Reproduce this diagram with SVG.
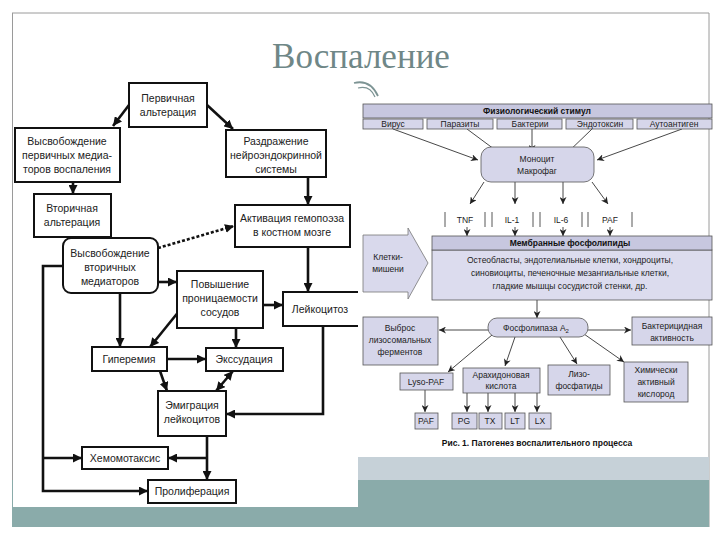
<svg xmlns="http://www.w3.org/2000/svg" width="720" height="540" viewBox="0 0 720 540">
<defs>
<style>
.bx{fill:#fff;stroke:#111;stroke-width:2}
.t{font-family:"Liberation Sans",Arial,sans-serif;font-size:10.5px;fill:#222;text-anchor:middle}
.c{fill:none;stroke:#111;stroke-width:2.6}
.rb{fill:#d6d6ea;stroke:#555;stroke-width:0.8}
.rh{fill:#c7c7df;stroke:#555;stroke-width:0.8}
.rt{font-family:"Liberation Sans",Arial,sans-serif;font-size:8.5px;fill:#222;text-anchor:middle}
.rtb{font-family:"Liberation Sans",Arial,sans-serif;font-size:8.5px;fill:#111;text-anchor:middle;font-weight:bold}
.rc{fill:none;stroke:#333;stroke-width:0.9}
</style>
<marker id="ah" viewBox="0 0 10 10" refX="10" refY="5" markerWidth="9" markerHeight="9" markerUnits="userSpaceOnUse" orient="auto-start-reverse"><path d="M0,0 L10,5 L0,10 z" fill="#111"/></marker>
<marker id="sh" viewBox="0 0 10 10" refX="10" refY="5" markerWidth="7" markerHeight="7" markerUnits="userSpaceOnUse" orient="auto"><path d="M0,0 L10,5 L0,10 L3,5 z" fill="#222"/></marker>
</defs>
<rect x="0" y="0" width="720" height="540" fill="#fff"/>
<g id="frame">
<line x1="12" y1="13" x2="709" y2="13" stroke="#9a9a9a" stroke-width="1"/>
<line x1="12.5" y1="13" x2="12.5" y2="527" stroke="#9a9a9a" stroke-width="1"/>
<line x1="709" y1="13" x2="709" y2="527" stroke="#9a9a9a" stroke-width="1"/>
<rect x="355" y="457" width="354" height="23" fill="#c6d1d8"/>
<rect x="12" y="480" width="697" height="47" fill="#8aabaa"/>
<rect x="13" y="75" width="345" height="432" fill="#fff"/>
</g>
<g id="title">
<text x="361" y="68" font-family="Liberation Serif,serif" font-size="35" fill="#6f8787" text-anchor="middle">Воспаление</text>
<path d="M354,83 Q370,79 378,96" fill="none" stroke="#7d9494" stroke-width="1.8"/>
<path d="M358,88 Q370,85 375,97" fill="none" stroke="#7d9494" stroke-width="1.2"/>
</g>
<g id="left-connectors">
<path class="c" d="M129,105 L113,126" marker-end="url(#ah)"/>
<path class="c" d="M207,105 L233,129" marker-end="url(#ah)"/>
<path class="c" d="M73,182 L73,194" marker-end="url(#ah)"/>
<path class="c" d="M308,177 L308,205" marker-end="url(#ah)"/>
<path class="c" d="M158,248 L234,226" stroke-dasharray="3,2" stroke-width="3" marker-end="url(#ah)"/>
<path class="c" d="M158,282 L177,282" marker-end="url(#ah)"/>
<path class="c" d="M120,293 L120,347" marker-end="url(#ah)"/>
<path class="c" d="M180,310 L150,347" marker-end="url(#ah)"/>
<path class="c" d="M263,305 L283,305" marker-end="url(#ah)"/>
<path class="c" d="M236,328 L236,348" marker-end="url(#ah)"/>
<path class="c" d="M308,247 L308,292" marker-end="url(#ah)"/>
<path class="c" d="M167,359 L206,359" marker-end="url(#ah)"/>
<path class="c" d="M160,371 L167,391" marker-end="url(#ah)"/>
<path class="c" d="M233,371 L216,391" marker-start="url(#ah)" marker-end="url(#ah)"/>
<path class="c" d="M323,326 L323,414 L226,414" marker-end="url(#ah)"/>
<path class="c" d="M63,266 L43,266 L43,491 L148,491" marker-end="url(#ah)"/>
<path class="c" d="M43,458 L82,458" marker-end="url(#ah)"/>
<path class="c" d="M207,436 L207,480" marker-end="url(#ah)"/>
<path class="c" d="M207,458 L168,458" marker-end="url(#ah)"/>
</g>
<g id="n-primary"><rect class="bx" x="129" y="83" width="78" height="44"/><text class="t" x="168" y="102">Первичная</text><text class="t" x="168" y="116">альтерация</text></g>
<g id="n-release1"><rect class="bx" x="15" y="128" width="105" height="54"/><text class="t" x="67" y="145">Высвобождение</text><text class="t" x="67" y="159">первичных медиа-</text><text class="t" x="67" y="173">торов воспаления</text></g>
<g id="n-secondary"><rect class="bx" x="34" y="194" width="77" height="43"/><text class="t" x="72" y="212">Вторичная</text><text class="t" x="72" y="226">альтерация</text></g>
<g id="n-neuro"><rect class="bx" x="226" y="130" width="100" height="47"/><text class="t" x="276" y="145">Раздражение</text><text class="t" x="276" y="159">нейроэндокринной</text><text class="t" x="276" y="173">системы</text></g>
<g id="n-hemo"><rect class="bx" x="235" y="205" width="115" height="42"/><text class="t" x="292" y="222">Активация гемопоэза</text><text class="t" x="292" y="236">в костном мозге</text></g>
<g id="n-release2"><rect class="bx" x="63" y="238" width="95" height="55" rx="8"/><text class="t" x="110" y="257">Высвобождение</text><text class="t" x="110" y="271">вторичных</text><text class="t" x="110" y="285">медиаторов</text></g>
<g id="n-perm"><rect class="bx" x="177" y="271" width="86" height="57"/><text class="t" x="220" y="288">Повышение</text><text class="t" x="220" y="302">проницаемости</text><text class="t" x="220" y="316">сосудов</text></g>
<g id="n-leuko"><path d="M358,292 H283 V326 H358" fill="#fff" stroke="#111" stroke-width="2"/><text class="t" x="320" y="313">Лейкоцитоз</text></g>
<g id="n-hyper"><rect class="bx" x="92" y="347" width="75" height="24"/><text class="t" x="129" y="363">Гиперемия</text></g>
<g id="n-exud"><rect class="bx" x="206" y="348" width="77" height="23"/><text class="t" x="244" y="363">Экссудация</text></g>
<g id="n-emig"><rect class="bx" x="158" y="391" width="68" height="45"/><text class="t" x="192" y="409">Эмиграция</text><text class="t" x="192" y="423">лейкоцитов</text></g>
<g id="n-chemo"><rect class="bx" x="82" y="447" width="86" height="22"/><text class="t" x="125" y="462">Хемомотаксис</text></g>
<g id="n-prolif"><rect class="bx" x="148" y="480" width="88" height="23"/><text class="t" x="192" y="495">Пролиферация</text></g>

<g id="right-connectors">
<path class="rc" d="M393,129 L478,160" marker-end="url(#sh)"/>
<path class="rc" d="M467,129 L502,155" marker-end="url(#sh)"/>
<path class="rc" d="M532,129 L532,152" marker-end="url(#sh)"/>
<path class="rc" d="M592,129 L565,155" marker-end="url(#sh)"/>
<path class="rc" d="M682,129 L597,160" marker-end="url(#sh)"/>
<path class="rc" d="M484,182 L470,204" marker-end="url(#sh)"/>
<path class="rc" d="M515,182 L515,204" marker-end="url(#sh)"/>
<path class="rc" d="M563,182 L563,204" marker-end="url(#sh)"/>
<path class="rc" d="M592,182 L608,204" marker-end="url(#sh)"/>
<path class="rc" d="M467,227 L467,236" marker-end="url(#sh)"/>
<path class="rc" d="M515,227 L515,236" marker-end="url(#sh)"/>
<path class="rc" d="M563,227 L563,236" marker-end="url(#sh)"/>
<path class="rc" d="M610,227 L610,236" marker-end="url(#sh)"/>
<path class="rc" d="M537,300 L537,318" marker-end="url(#sh)"/>
<path class="rc" d="M488,330 L439,330" marker-end="url(#sh)"/>
<path class="rc" d="M588,330 L631,330" marker-end="url(#sh)"/>
<path class="rc" d="M492,335 L448,372" marker-end="url(#sh)"/>
<path class="rc" d="M515,337 L505,366" marker-end="url(#sh)"/>
<path class="rc" d="M560,337 L577,364" marker-end="url(#sh)"/>
<path class="rc" d="M584,334 L624,362" marker-end="url(#sh)"/>
<path class="rc" d="M425,390 L425,412" marker-end="url(#sh)"/>
<path class="rc" d="M467,393 L467,412" marker-end="url(#sh)"/>
<path class="rc" d="M488,393 L488,412" marker-end="url(#sh)"/>
<path class="rc" d="M515,393 L515,412" marker-end="url(#sh)"/>
<path class="rc" d="M537,393 L537,412" marker-end="url(#sh)"/>
</g>
<g id="r-stimulus"><rect class="rh" x="363" y="104" width="349" height="14"/><text class="rtb" x="537" y="114">Физиологический стимул</text></g>
<g id="r-virus"><rect class="rb" x="363" y="119" width="60" height="10"/><text class="rt" x="393" y="127">Вирус</text></g>
<g id="r-parasites"><rect class="rb" x="427" y="119" width="66" height="10"/><text class="rt" x="460" y="127">Паразиты</text></g>
<g id="r-bacteria"><rect class="rb" x="497" y="119" width="65" height="10"/><text class="rt" x="530" y="127">Бактерии</text></g>
<g id="r-endotoxin"><rect class="rb" x="566" y="119" width="67" height="10"/><text class="rt" x="600" y="127">Эндотоксин</text></g>
<g id="r-autoantigen"><rect class="rb" x="637" y="119" width="75" height="10"/><text class="rt" x="674" y="127">Аутоантиген</text></g>
<g id="r-monocyte"><rect class="rb" x="481" y="147" width="113" height="35" rx="10"/><text class="rt" x="537" y="162">Моноцит</text><text class="rt" x="537" y="174">Макрофаг</text></g>
<g id="r-tnf"><rect x="445" y="212" width="40" height="15" fill="#fff"/><path d="M445,212 V227 M485,212 V227" stroke="#444" stroke-width="0.9"/><text class="rt" x="465" y="223">TNF</text></g>
<g id="r-il1"><rect x="492" y="212" width="41" height="15" fill="#fff"/><path d="M492,212 V227 M533,212 V227" stroke="#444" stroke-width="0.9"/><text class="rt" x="512" y="223">IL-1</text></g>
<g id="r-il6"><rect x="540" y="212" width="42" height="15" fill="#fff"/><path d="M540,212 V227 M582,212 V227" stroke="#444" stroke-width="0.9"/><text class="rt" x="561" y="223">IL-6</text></g>
<g id="r-paf1"><rect x="588" y="212" width="44" height="15" fill="#fff"/><path d="M588,212 V227 M632,212 V227" stroke="#444" stroke-width="0.9"/><text class="rt" x="610" y="223">PAF</text></g>
<g id="r-targets"><path d="M363,235 H408 V228 L428,263 L408,299 V292 H363 Z" fill="#d9d9ec" stroke="#777" stroke-width="0.8"/><text class="rt" x="388" y="260">Клетки-</text><text class="rt" x="388" y="272">мишени</text></g>
<g id="r-membrane"><rect x="432" y="250" width="280" height="50" fill="#dcdcee" stroke="#555" stroke-width="0.8"/><rect class="rh" x="432" y="236" width="280" height="14"/><text class="rtb" x="570" y="246">Мембранные фосфолипиды</text><text class="rt" x="570" y="263">Остеобласты, эндотелиальные клетки, хондроциты,</text><text class="rt" x="570" y="276">синовиоциты, печеночные мезангиальные клетки,</text><text class="rt" x="570" y="289">гладкие мышцы сосудистой стенки, др.</text></g>
<g id="r-pla2"><rect class="rb" x="488" y="318" width="100" height="19" rx="9"/><text class="rt" x="536" y="331">Фосфолипаза A<tspan font-size="6" dy="2">2</tspan></text></g>
<g id="r-lysosomal"><rect class="rb" x="363" y="317" width="75" height="48"/><text class="rt" x="400" y="331">Выброс</text><text class="rt" x="400" y="343">лизосомальных</text><text class="rt" x="400" y="355">ферментов</text></g>
<g id="r-bactericidal"><rect class="rb" x="632" y="317" width="80" height="28"/><text class="rt" x="672" y="329">Бактерицидная</text><text class="rt" x="672" y="341">активность</text></g>
<g id="r-lysopaf"><rect class="rb" x="400" y="373" width="53" height="17"/><text class="rt" x="426" y="385">Lyso-PAF</text></g>
<g id="r-arachidonic"><rect class="rb" x="463" y="368" width="77" height="25"/><text class="rt" x="501" y="378">Арахидоновая</text><text class="rt" x="501" y="389">кислота</text></g>
<g id="r-lysophos"><rect class="rb" x="548" y="365" width="62" height="30"/><text class="rt" x="579" y="377">Лизо-</text><text class="rt" x="579" y="389">фосфатиды</text></g>
<g id="r-oxygen"><rect class="rb" x="624" y="362" width="64" height="40"/><text class="rt" x="656" y="373">Химически</text><text class="rt" x="656" y="385">активный</text><text class="rt" x="656" y="397">кислород</text></g>
<g id="r-paf2"><rect class="rb" x="415" y="413" width="23" height="16"/><text class="rt" x="426" y="424">PAF</text></g>
<g id="r-pg"><rect class="rb" x="452" y="413" width="25" height="16"/><text class="rt" x="464" y="424">PG</text></g>
<g id="r-tx"><rect class="rb" x="479" y="413" width="23" height="16"/><text class="rt" x="490" y="424">TX</text></g>
<g id="r-lt"><rect class="rb" x="505" y="413" width="20" height="16"/><text class="rt" x="515" y="424">LT</text></g>
<g id="r-lx"><rect class="rb" x="529" y="413" width="22" height="16"/><text class="rt" x="540" y="424">LX</text></g>
<text class="rtb" x="537" y="446" font-size="9">Рис. 1. Патогенез воспалительного процесса</text>
</svg>
